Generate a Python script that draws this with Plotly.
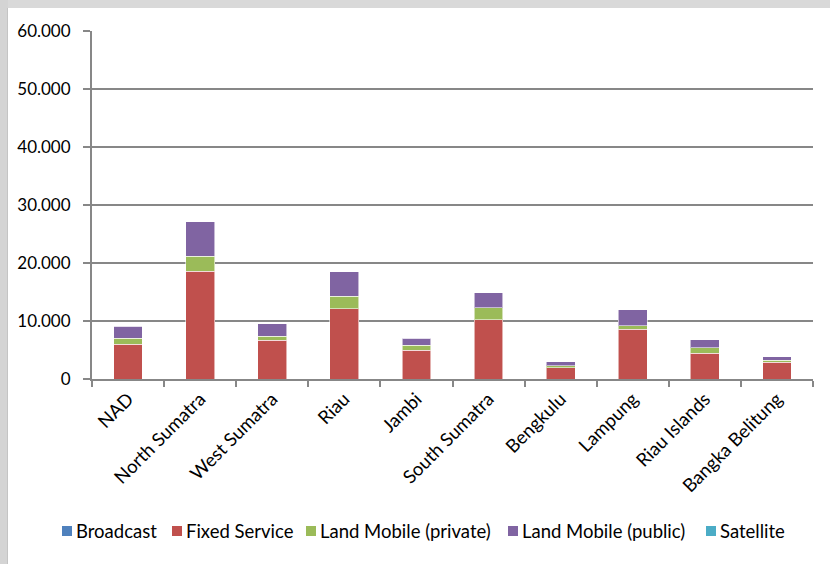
import plotly.graph_objects as go

# Provinces of Sumatra
regions = ["NAD", "North Sumatra", "West Sumatra", "Riau", "Jambi",
           "South Sumatra", "Bengkulu", "Lampung", "Riau Islands", "Bangka Belitung"]

# Number of assignments per service
broadcast = [0, 0, 0, 0, 0, 0, 0, 0, 0, 0]
fixed_service = [6000, 18600, 6650, 12100, 4950, 10200, 1950, 8550, 4400, 2850]
land_mobile_private = [1000, 2600, 750, 2200, 850, 2100, 350, 600, 1000, 400]
land_mobile_public = [2100, 5900, 2100, 4150, 1250, 2550, 650, 2750, 1400, 600]
satellite = [0, 0, 0, 0, 0, 0, 0, 0, 0, 0]

y_ticks = [0, 10000, 20000, 30000, 40000, 50000, 60000]

series = [
    ("Broadcast", broadcast, "#4F81BD"),
    ("Fixed Service", fixed_service, "#C0504D"),
    ("Land Mobile (private)", land_mobile_private, "#9BBB59"),
    ("Land Mobile (public)", land_mobile_public, "#8064A2"),
    ("Satellite", satellite, "#4BACC6"),
]

FONT = "Lato"
FS_Y = 17
FS_TXT = 18.5
GRID = "#878787"

fig = go.Figure()
for name, values, color in series:
    fig.add_trace(go.Bar(
        x=regions, y=values, name=name, showlegend=False,
        marker=dict(color=color, line=dict(color="rgba(255,255,255,0.55)", width=1)),
    ))

# plot area: x 92..813 px, y 31..379 px
L, R, T, B = 92, 17, 31, 185
W, H = 830, 564
pw, ph = W - L - R, H - T - B

def px_x(p):
    return (p - L) / pw

def px_y(p):
    return (H - B - p) / ph

# Legend row drawn as swatches + labels, left edge of each swatch in px
legend_left = [62, 172, 306, 508, 706]
legend_y = 531
shapes = []
annotations = []
for (name, _, color), lx in zip(series, legend_left):
    shapes.append(dict(type="rect", xref="paper", yref="paper",
                       x0=px_x(lx), x1=px_x(lx + 10),
                       y0=px_y(legend_y + 5), y1=px_y(legend_y - 5),
                       fillcolor=color, line=dict(width=0)))
    annotations.append(dict(xref="paper", yref="paper",
                            x=px_x(lx + 12), y=px_y(legend_y),
                            xanchor="left", yanchor="middle",
                            text=name, showarrow=False,
                            font=dict(family=FONT, size=FS_TXT, color="#000000")))

# window frame strips along the top and left edges
shapes += [
    dict(type="rect", xref="paper", yref="paper",
         x0=px_x(0), x1=px_x(W), y0=px_y(8), y1=px_y(0),
         fillcolor="#d9d9d9", line=dict(width=0), layer="above"),
    dict(type="rect", xref="paper", yref="paper",
         x0=px_x(0), x1=px_x(8), y0=px_y(H), y1=px_y(0),
         fillcolor="#d4d4d4", line=dict(width=0), layer="above"),
    dict(type="line", xref="paper", yref="paper",
         x0=px_x(7.5), x1=px_x(7.5), y0=px_y(H), y1=px_y(8),
         line=dict(color="#c4c4c4", width=1), layer="above"),
]

fig.update_layout(
    width=W, height=H,
    margin=dict(l=L, r=R, t=T, b=B, pad=0),
    barmode="stack",
    bargap=0.6,
    separators=",.",
    paper_bgcolor="white",
    plot_bgcolor="white",
    font=dict(family=FONT, size=FS_Y, color="#000000"),
    showlegend=False,
    xaxis=dict(
        range=[-0.5, len(regions) - 0.5],
        tickangle=-45,
        tickfont=dict(family=FONT, size=FS_TXT, color="#000000"),
        showline=True, linecolor=GRID, linewidth=2,
        ticks="outside", tickson="boundaries", ticklen=6, tickcolor=GRID, tickwidth=1.5,
        showgrid=False,
    ),
    yaxis=dict(
        range=[0, 60000],
        tickvals=y_ticks,
        tickformat=",d",
        tickfont=dict(family=FONT, size=FS_Y, color="#000000"),
        showline=True, linecolor=GRID, linewidth=2,
        ticks="outside", ticklen=7, tickcolor=GRID, tickwidth=1.5,
        ticklabelstandoff=9,
        showgrid=True, gridcolor=GRID, gridwidth=1.5,
        zeroline=False,
    ),
    shapes=shapes,
    annotations=annotations,
)

fig.write_html("out.html")
